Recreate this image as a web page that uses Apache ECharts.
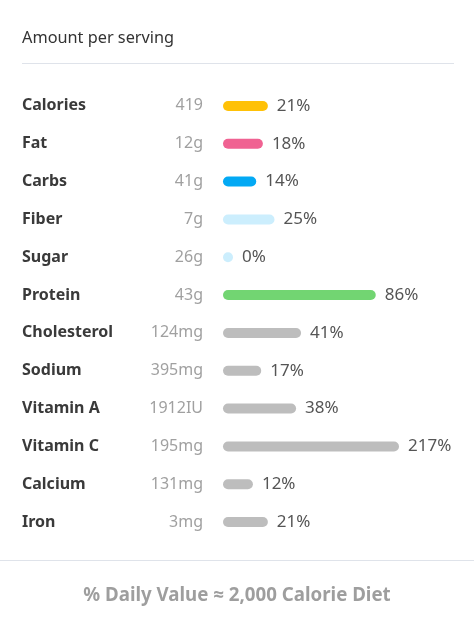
<!DOCTYPE html>
<html>
<head>
<meta charset="utf-8">
<script src="https://cdn.jsdelivr.net/npm/echarts@6/dist/echarts.min.js"></script>
<style>
html,body{margin:0;padding:0;background:#fff;}
#chart{width:474px;height:624px;}
</style>
</head>
<body>
<div id="chart"></div>
<script>
const nutrients = ['Calories','Fat','Carbs','Fiber','Sugar','Protein','Cholesterol','Sodium','Vitamin A','Vitamin C','Calcium','Iron'];
const amounts = ['419','12g','41g','7g','26g','43g','124mg','395mg','1912IU','195mg','131mg','3mg'];
const percents = [21,18,14,25,0,86,41,17,38,217,12,21];
const barColors = ['#FFC107','#F06292','#03A9F4','#CCEEFD','#CCEEFD','#72D572','#BDBDBD','#BDBDBD','#BDBDBD','#BDBDBD','#BDBDBD','#BDBDBD'];

const FONT = '"Noto Sans", "Open Sans", sans-serif';
const chart = echarts.init(document.getElementById('chart'), null, {renderer:'canvas'});

const data = percents.map((p, i) => [p, i]);

chart.setOption({
  animation: false,
  backgroundColor: '#fff',
  grid: { left: 228, width: 166, top: 87, height: 454 },
  xAxis: { type: 'value', min: 0, max: 100, show: false },
  yAxis: [
    {
      type: 'category', data: nutrients, inverse: true,
      axisLine: {show:false}, axisTick: {show:false}, splitLine: {show:false},
      axisLabel: { align: 'left', margin: 206, color: '#3a3a3a', fontWeight: 'bold', fontSize: 16, fontFamily: FONT }
    },
    {
      type: 'category', data: amounts, inverse: true, position: 'left',
      axisLine: {show:false}, axisTick: {show:false}, splitLine: {show:false},
      axisLabel: { align: 'right', margin: 25, color: '#a0a0a0', fontSize: 16, fontFamily: FONT }
    }
  ],
  graphic: [
    { type: 'text', left: 22, top: 30, style: { text: 'Amount per serving', fill: '#333', font: '16.3px ' + FONT } },
    { type: 'line', shape: { x1: 22, y1: 63.5, x2: 454, y2: 63.5 }, style: { stroke: '#dfe3ea', lineWidth: 1 } },
    { type: 'line', shape: { x1: 0, y1: 560.5, x2: 474, y2: 560.5 }, style: { stroke: '#dfe3ea', lineWidth: 1 } },
    { type: 'text', x: 237, y: 596, style: { text: '% Daily Value \u2248 2,000 Calorie Diet', fill: '#9e9e9e', font: 'bold 18.7px ' + FONT, align: 'center', verticalAlign: 'middle' } }
  ],
  series: [{
    type: 'custom',
    data: data,
    encode: { x: 0, y: 1 },
    renderItem: function (params, api) {
      const p = api.value(0);
      const idx = api.value(1);
      const s = api.coord([0, idx]);
      const e = api.coord([Math.min(p, 100), idx]);
      return {
        type: 'group',
        children: [
          { type: 'rect', shape: { x: s[0] - 5, y: s[1] - 5, width: e[0] - s[0] + 10, height: 10, r: 5 },
            style: { fill: barColors[idx] } },
          { type: 'text', x: e[0] + 14, y: e[1],
            style: { text: p + '%', fill: '#555', font: '17px ' + FONT, verticalAlign: 'middle', align: 'left' } }
        ]
      };
    }
  }]
});
</script>
</body>
</html>
